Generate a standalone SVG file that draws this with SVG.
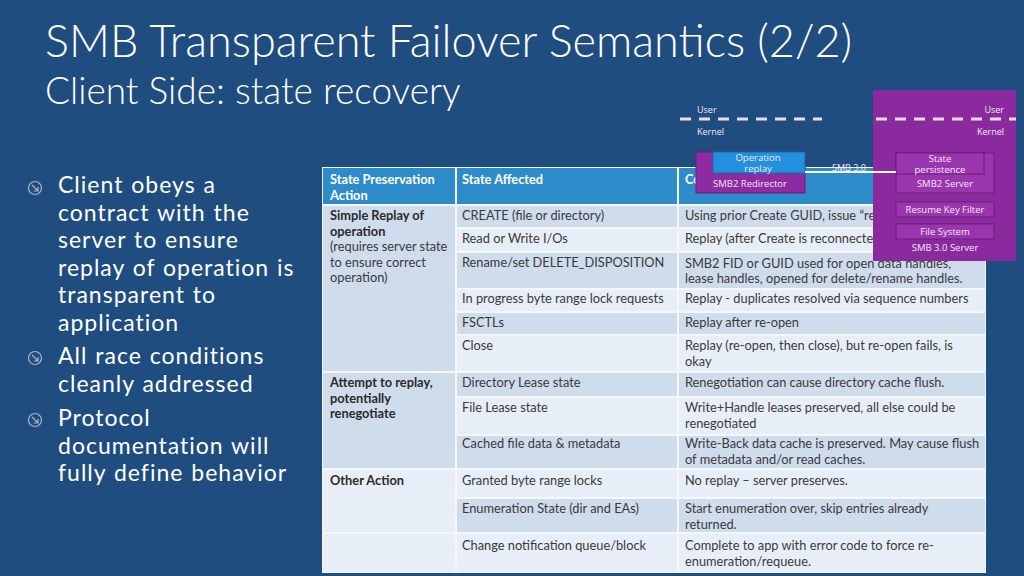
<svg xmlns="http://www.w3.org/2000/svg" width="1024" height="576" viewBox="0 0 1024 576">
<defs>
<style>
.title{font-family:Lato,"Open Sans",sans-serif;font-weight:300;fill:#ffffff}
.bul{font-family:Lato,"Open Sans",sans-serif;font-size:23px;letter-spacing:1px;word-spacing:1px;fill:#ffffff}
.td{font-family:Lato,"Open Sans",sans-serif;font-size:12.8px;fill:#3a3a3a}
.tb{font-family:Lato,"Open Sans",sans-serif;font-size:12.8px;font-weight:bold;fill:#2a2a2a}
.th{font-family:Lato,"Open Sans",sans-serif;font-size:12.8px;font-weight:bold;fill:#ffffff}
.dk{fill:#cedcec}
.lt{fill:#e8eef7}
.hd{fill:#2f8ccb}
.sm{font-family:"Open Sans","Noto Sans",sans-serif;font-size:9px;fill:#f2e8f4}
.bx{font-family:"Open Sans","Noto Sans",sans-serif;font-size:9.5px;fill:#f4e6f6;text-anchor:middle}
.ibox{fill:#9a36ad;stroke:#6b1c7d;stroke-width:1}
.dash{stroke:#efdcf0;stroke-width:3;stroke-dasharray:11 8;fill:none}
.icon{fill:none;stroke:#a9b6c9;stroke-width:1.2}
</style>
</defs>
<rect x="0" y="0" width="1024" height="576" fill="#1f4d7f"/>

<g id="title">
<text class="title" x="45" y="57" font-size="45">SMB Transparent Failover Semantics (2/2)</text>
<text class="title" x="45" y="104" font-size="37">Client Side: state recovery</text>
</g>

<g id="bullets">
<g class="icon">
<circle cx="35" cy="188" r="6.5"/><path d="M32 185 L38 191 M38 187 L38 191 L34 191"/>
<circle cx="35" cy="358" r="6.5"/><path d="M32 355 L38 361 M38 357 L38 361 L34 361"/>
<circle cx="35" cy="420" r="6.5"/><path d="M32 417 L38 423 M38 419 L38 423 L34 423"/>
</g>
<text class="bul" x="58" y="193">Client obeys a</text>
<text class="bul" x="58" y="220.5">contract with the</text>
<text class="bul" x="58" y="248">server to ensure</text>
<text class="bul" x="58" y="275.5">replay of operation is</text>
<text class="bul" x="58" y="303">transparent to</text>
<text class="bul" x="58" y="330.5">application</text>
<text class="bul" x="58" y="364">All race conditions</text>
<text class="bul" x="58" y="391.5">cleanly addressed</text>
<text class="bul" x="58" y="426">Protocol</text>
<text class="bul" x="58" y="453.5">documentation will</text>
<text class="bul" x="58" y="481">fully define behavior</text>
</g>

<g id="table">
<rect x="322" y="167" width="664" height="406" fill="#f4f7fb"/>
<rect class="hd" x="323" y="168" width="132" height="36"/>
<rect class="hd" x="457" y="168" width="220" height="36"/>
<rect class="hd" x="679" y="168" width="306" height="36"/>
<rect class="dk" x="323" y="206" width="132" height="165"/>
<rect class="dk" x="323" y="373" width="132" height="95"/>
<rect class="lt" x="323" y="470" width="132" height="62"/>
<rect class="lt" x="323" y="534" width="132" height="38"/>
<rect class="dk" x="457" y="206" width="220" height="21"/><rect class="dk" x="679" y="206" width="306" height="21"/>
<rect class="lt" x="457" y="229" width="220" height="22"/><rect class="lt" x="679" y="229" width="306" height="22"/>
<rect class="dk" x="457" y="253" width="220" height="35"/><rect class="dk" x="679" y="253" width="306" height="35"/>
<rect class="lt" x="457" y="290" width="220" height="21"/><rect class="lt" x="679" y="290" width="306" height="21"/>
<rect class="dk" x="457" y="313" width="220" height="21"/><rect class="dk" x="679" y="313" width="306" height="21"/>
<rect class="lt" x="457" y="336" width="220" height="35"/><rect class="lt" x="679" y="336" width="306" height="35"/>
<rect class="dk" x="457" y="373" width="220" height="23"/><rect class="dk" x="679" y="373" width="306" height="23"/>
<rect class="lt" x="457" y="398" width="220" height="36"/><rect class="lt" x="679" y="398" width="306" height="36"/>
<rect class="dk" x="457" y="436" width="220" height="32"/><rect class="dk" x="679" y="436" width="306" height="32"/>
<rect class="lt" x="457" y="470" width="220" height="27"/><rect class="lt" x="679" y="470" width="306" height="27"/>
<rect class="dk" x="457" y="499" width="220" height="33"/><rect class="dk" x="679" y="499" width="306" height="33"/>
<rect class="lt" x="457" y="534" width="220" height="38"/><rect class="lt" x="679" y="534" width="306" height="38"/>

<text class="th" x="330" y="184">State Preservation</text>
<text class="th" x="330" y="199.5">Action</text>
<text class="th" x="462" y="184">State Affected</text>
<text class="th" x="685" y="184">Co</text>

<text class="tb" x="330" y="220">Simple Replay of</text>
<text class="tb" x="330" y="235.5">operation</text>
<text class="td" x="330" y="251">(requires server state</text>
<text class="td" x="330" y="266.5">to ensure correct</text>
<text class="td" x="330" y="282">operation)</text>
<text class="tb" x="330" y="387">Attempt to replay,</text>
<text class="tb" x="330" y="402.5">potentially</text>
<text class="tb" x="330" y="418">renegotiate</text>
<text class="tb" x="330" y="485">Other Action</text>

<text class="td" x="462" y="220">CREATE (file or directory)</text>
<text class="td" x="462" y="243">Read or Write I/Os</text>
<text class="td" x="462" y="267">Rename/set DELETE_DISPOSITION</text>
<text class="td" x="462" y="303">In progress byte range lock requests</text>
<text class="td" x="462" y="327">FSCTLs</text>
<text class="td" x="462" y="350">Close</text>
<text class="td" x="462" y="387">Directory Lease state</text>
<text class="td" x="462" y="412">File Lease state</text>
<text class="td" x="462" y="448">Cached file data &amp; metadata</text>
<text class="td" x="462" y="485">Granted byte range locks</text>
<text class="td" x="462" y="513">Enumeration State (dir and EAs)</text>
<text class="td" x="462" y="550">Change notification queue/block</text>

<text class="td" x="685" y="220">Using prior Create GUID, issue “re</text>
<text class="td" x="685" y="243">Replay (after Create is reconnecte</text>
<text class="td" x="685" y="267.5">SMB2 FID or GUID used for open data handles,</text>
<text class="td" x="685" y="283">lease handles, opened for delete/rename handles.</text>
<text class="td" x="685" y="303">Replay - duplicates resolved via sequence numbers</text>
<text class="td" x="685" y="327">Replay after re-open</text>
<text class="td" x="685" y="350">Replay (re-open, then close), but re-open fails, is</text>
<text class="td" x="685" y="366">okay</text>
<text class="td" x="685" y="387">Renegotiation can cause directory cache flush.</text>
<text class="td" x="685" y="412">Write+Handle leases preserved, all else could be</text>
<text class="td" x="685" y="428">renegotiated</text>
<text class="td" x="685" y="448">Write-Back data cache is preserved. May cause flush</text>
<text class="td" x="685" y="464">of metadata and/or read caches.</text>
<text class="td" x="685" y="485">No replay – server preserves.</text>
<text class="td" x="685" y="513">Start enumeration over, skip entries already</text>
<text class="td" x="685" y="529">returned.</text>
<text class="td" x="685" y="550">Complete to app with error code to force re-</text>
<text class="td" x="685" y="566">enumeration/requeue.</text>
</g>

<g id="server">
<rect x="873" y="90" width="143" height="171" fill="#8b2a9f"/>
<line class="dash" x1="876" y1="119" x2="1016" y2="119"/>
<text class="sm" x="1004" y="113" text-anchor="end">User</text>
<text class="sm" x="1004" y="135" text-anchor="end">Kernel</text>
<g id="smb2-server">
<rect class="ibox" x="896" y="153" width="98" height="40"/>
<text class="bx" x="945" y="187">SMB2 Server</text>
</g>
<g id="state-persistence">
<rect class="ibox" x="896" y="153" width="88" height="21"/>
<text class="bx" x="940" y="162">State</text>
<text class="bx" x="940" y="173">persistence</text>
</g>
<g id="resume-key-filter">
<rect class="ibox" x="896" y="202" width="98" height="15"/>
<text class="bx" x="945" y="213">Resume Key Filter</text>
</g>
<g id="file-system">
<rect class="ibox" x="896" y="224" width="98" height="15"/>
<text class="bx" x="945" y="235">File System</text>
</g>
<text class="bx" x="945" y="251">SMB 3.0 Server</text>
</g>

<g id="client">
<line class="dash" x1="680" y1="119" x2="822" y2="119"/>
<text class="sm" x="697" y="113">User</text>
<text class="sm" x="697" y="135">Kernel</text>
<g id="smb2-redirector">
<rect x="696" y="152" width="109" height="41" fill="#8d2ca0" stroke="#6b1c7d" stroke-width="1"/>
<text class="bx" x="750" y="187">SMB2 Redirector</text>
</g>
<g id="operation-replay">
<rect x="713" y="152" width="92" height="21" fill="#2290dc" stroke="#1768a8" stroke-width="1"/>
<text class="bx" x="758" y="161" fill="#eaf4ff">Operation</text>
<text class="bx" x="758" y="172" fill="#eaf4ff">replay</text>
</g>
</g>

<g id="connectors">
<line x1="805" y1="172" x2="896" y2="172" stroke="#ffffff" stroke-width="2"/>
<text class="sm" x="849" y="171" text-anchor="middle">SMB 3.0</text>
</g>
</svg>
